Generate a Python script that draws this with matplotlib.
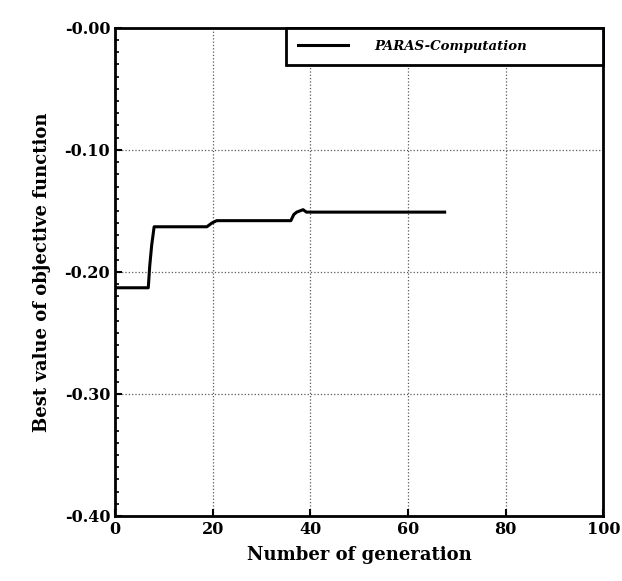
import numpy as np
import matplotlib
matplotlib.use("Agg")
import matplotlib.pyplot as plt
from matplotlib.ticker import MultipleLocator

# best objective value per generation
gen = [0.5, 6.8, 7.1, 7.5, 8.0, 18.8, 19.8, 20.8, 36.0, 36.6, 37.2, 38.5, 39.2, 67.5]
best = [-0.213, -0.213, -0.195, -0.178, -0.163, -0.163, -0.160, -0.158,
        -0.158, -0.153, -0.151, -0.149, -0.151, -0.151]

xticks = [0, 20, 40, 60, 80, 100]
yticks = [-0.40, -0.30, -0.20, -0.10, 0.0]
ylabels = ["-0.40", "-0.30", "-0.20", "-0.10", "-0.00"]

font = {"family": "DejaVu Serif", "weight": "bold"}

fig = plt.figure(figsize=(6.22, 5.81), dpi=100)
ax = fig.add_axes([0.185, 0.112, 0.785, 0.84])

ax.plot(gen, best, color="black", lw=2.2, label="PARAS-Computation")

ax.set_xlim(0, 100)
ax.set_ylim(-0.40, 0.0)
ax.set_xticks(xticks)
ax.set_yticks(yticks)
ax.set_yticklabels(ylabels)
ax.yaxis.set_minor_locator(MultipleLocator(0.01))
ax.tick_params(direction="in", length=5, width=1.5, labelsize=11.5)
ax.tick_params(axis="y", which="minor", direction="in", length=3, width=1.2)
for lab in ax.get_xticklabels() + ax.get_yticklabels():
    lab.set_fontfamily("DejaVu Serif")
    lab.set_fontweight("bold")

ax.grid(True, which="major", ls=":", color="0.35", lw=0.9)
for s in ax.spines.values():
    s.set_linewidth(2)

ax.set_xlabel("Number of generation", fontsize=13, labelpad=6, **font)
ax.set_ylabel("Best value of objective function", fontsize=13, labelpad=10, **font)

leg = ax.legend(loc="upper left", bbox_to_anchor=(0.35, 0.918, 0.65, 0.082),
                mode="expand", fancybox=False,
                framealpha=1, edgecolor="black", borderaxespad=0,
                prop={"family": "DejaVu Serif", "weight": "bold", "style": "italic", "size": 9.5},
                handlelength=3.8, borderpad=0.9, handletextpad=2.0)
leg.get_frame().set_linewidth(2)

fig.savefig("out.png", dpi=100)
